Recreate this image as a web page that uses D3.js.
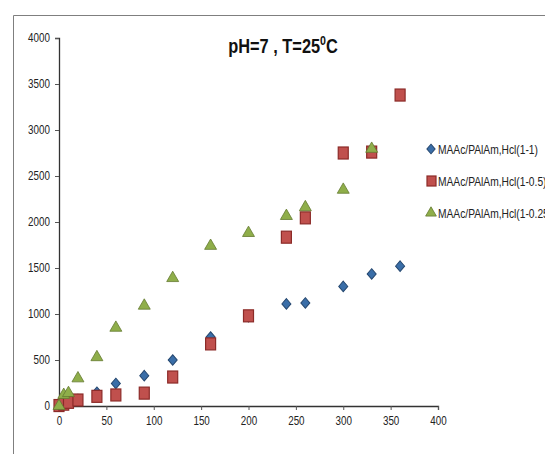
<!DOCTYPE html>
<html>
<head>
<meta charset="utf-8">
<script src="https://cdn.jsdelivr.net/npm/d3@7"></script>
<style>
  body { margin: 0; background: #fff; }
  svg { display: block; }
  .tick text { font-family: "Liberation Sans", Arial, sans-serif; font-size: 12px; fill: #222; }
</style>
</head>
<body>
<div id="chart"></div>
<script>
// temps (x) et valeurs pour chaque série
const times11 = [0, 5, 10, 20, 40, 60, 90, 120, 160, 200, 240, 260, 300, 330, 360];
const vals11 = [0, 30, 50, 70, 150, 245, 330, 500, 750, 970, 1110, 1120, 1300, 1435, 1520];

const times105 = [0, 5, 10, 20, 40, 60, 90, 120, 160, 200, 240, 260, 300, 330, 360];
const vals105 = [5, 20, 40, 65, 105, 120, 140, 315, 675, 980, 1835, 2045, 2750, 2760, 3380];

const times1025 = [0, 5, 10, 20, 40, 60, 90, 120, 160, 200, 240, 260, 300, 330];
const vals1025 = [0, 120, 140, 300, 530, 850, 1090, 1390, 1740, 1880, 2065, 2160, 2350, 2795];

const seriesNames = ["MAAc/PAlAm,Hcl(1-1)", "MAAc/PAlAm,Hcl(1-0.5)", "MAAc/PAlAm,Hcl(1-0.25)"];
const xTicks = [0, 50, 100, 150, 200, 250, 300, 350, 400];
const yTicks = [0, 500, 1000, 1500, 2000, 2500, 3000, 3500, 4000];

const W = 545, H = 454;
const narrow = 0.82; // écrase le texte horizontalement (police étroite type Calibri)
const svg = d3.select("#chart").append("svg").attr("width", W).attr("height", H);

// cadre de la zone graphique (coupé à droite et en bas)
svg.append("path")
  .attr("d", `M13.5,${H} L13.5,15.5 L${W},15.5`)
  .attr("fill", "none").attr("stroke", "#7f7f7f").attr("stroke-width", 1);

const x = d3.scaleLinear().domain([0, 400]).range([59, 438]);
const y = d3.scaleLinear().domain([0, 4000]).range([406, 38]);

const xAxis = svg.append("g").attr("transform", "translate(0,406)")
  .call(d3.axisBottom(x).tickValues(xTicks).tickFormat(d3.format("d")).tickSize(4).tickPadding(6));
const yAxis = svg.append("g").attr("transform", "translate(59,0)")
  .call(d3.axisLeft(y).tickValues(yTicks).tickFormat(d3.format("d")).tickSize(4).tickPadding(7));
[xAxis, yAxis].forEach(a => {
  a.select(".domain").attr("stroke", "#333").attr("stroke-width", 1.3);
  a.selectAll(".tick line").attr("stroke", "#555");
  a.selectAll(".tick text").attr("transform", `scale(${narrow},1)`);
});

// titre
const title = svg.append("g").attr("transform", `translate(283,53) scale(${narrow},1)`)
  .append("text")
  .attr("text-anchor", "middle")
  .attr("font-family", "'Liberation Sans', Arial, sans-serif")
  .attr("font-weight", "bold").attr("font-size", 20).attr("fill", "#111")
  .text("pH=7 , T=25");
title.append("tspan").attr("font-size", 13).attr("dy", -8).text("0");
title.append("tspan").attr("dy", 8).text("C");

// losange plus large que celui de d3 par défaut
const diamond = d3.symbol().type(d3.symbolDiamond).size(36);
const diamondScale = "scale(1.4,0.95)";
const triangle = d3.symbol().type(d3.symbolTriangle).size(62);

function drawSeries(xs, ys, kind) {
  const data = xs.map((t, i) => ({t, v: ys[i]}));
  const g = svg.append("g");
  if (kind === "square") {
    g.selectAll("rect").data(data).enter().append("rect")
      .attr("x", d => x(d.t) - 5).attr("y", d => y(d.v) - 6)
      .attr("width", 10).attr("height", 12)
      .attr("fill", "#c0504d").attr("stroke", "#8c2b28").attr("stroke-width", 1.2);
  } else {
    g.selectAll("path").data(data).enter().append("path")
      .attr("transform", d => `translate(${x(d.t)},${y(d.v)}) ${kind === "diamond" ? diamondScale : ""}`)
      .attr("d", kind === "diamond" ? diamond : triangle)
      .attr("fill", kind === "diamond" ? "#3a6ea8" : "#8fae4a")
      .attr("stroke", kind === "diamond" ? "#24466e" : "#637a30")
      .attr("stroke-width", 0.8);
  }
}

drawSeries(times11, vals11, "diamond");
drawSeries(times105, vals105, "square");
drawSeries(times1025, vals1025, "triangle");

// légende
const legY = [149, 181, 213];
const leg = svg.append("g");
leg.append("path").attr("transform", `translate(431,${legY[0]}) ${diamondScale}`)
  .attr("d", d3.symbol().type(d3.symbolDiamond).size(30))
  .attr("fill", "#3a6ea8").attr("stroke", "#24466e").attr("stroke-width", 0.8);
leg.append("rect").attr("x", 427).attr("y", legY[1] - 5).attr("width", 9).attr("height", 10)
  .attr("fill", "#c0504d").attr("stroke", "#8c2b28").attr("stroke-width", 1.2);
leg.append("path").attr("transform", `translate(431,${legY[2]})`)
  .attr("d", d3.symbol().type(d3.symbolTriangle).size(50))
  .attr("fill", "#8fae4a").attr("stroke", "#637a30").attr("stroke-width", 0.8);
leg.selectAll("g.item").data(seriesNames).enter().append("g")
  .attr("class", "item")
  .attr("transform", (d, i) => `translate(438,${legY[i] + 4.5}) scale(${narrow},1)`)
  .append("text")
  .attr("font-family", "'Liberation Sans', Arial, sans-serif")
  .attr("font-size", 12.5).attr("fill", "#222")
  .text(d => d);
</script>
</body>
</html>
